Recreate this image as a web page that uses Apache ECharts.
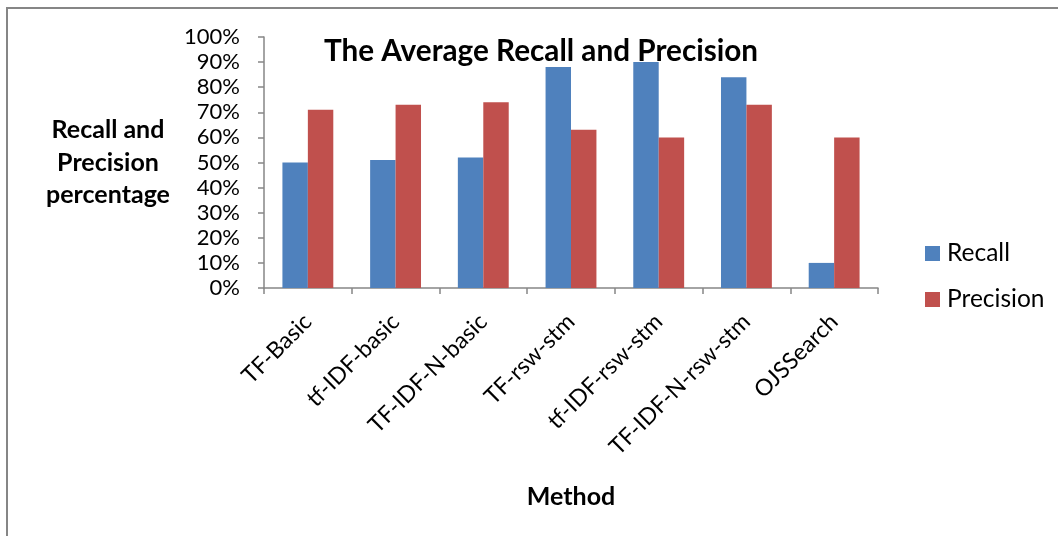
<!DOCTYPE html>
<html><head><meta charset="utf-8">
<script src="https://cdn.jsdelivr.net/npm/echarts@6/dist/echarts.min.js"></script>
<style>html,body{margin:0;padding:0;background:#fff}#c{width:1058px;height:536px}</style>
</head><body><div id="c"></div>
<script>
var categories = ['TF-Basic','tf-IDF-basic','TF-IDF-N-basic','TF-rsw-stm','tf-IDF-rsw-stm','TF-IDF-N-rsw-stm','OJSSearch'];
var recall = [50, 51, 52, 88, 90, 84, 10];
var precision = [71, 73, 74, 63, 60, 73, 60];
var yTicks = [0,10,20,30,40,50,60,70,80,90,100];

var font = 'Lato, "Open Sans", sans-serif';
var chart = echarts.init(document.getElementById('c'));
chart.setOption({
  animation: false,
  backgroundColor: '#fff',
  graphic: [{
    type: 'rect', shape: {x: 7, y: 8, width: 1100, height: 600},
    style: {fill: 'none', stroke: '#868686', lineWidth: 2}, silent: true
  }],
  title: {
    text: 'The Average Recall and Precision',
    left: 536, top: 31, textAlign: 'center',
    textStyle: {fontFamily: font, fontWeight: 'bold', fontSize: 29.7, color: '#000'}
  },
  legend: {
    orient: 'vertical', left: 920, top: 236, itemGap: 21,
    itemWidth: 15, itemHeight: 15, icon: 'rect',
    textStyle: {fontFamily: font, fontSize: 24.5, color: '#000', padding: [0,0,0,2]},
    data: ['Recall','Precision']
  },
  grid: {left: 264, top: 37, right: 180, bottom: 248},
  xAxis: {
    type: 'category', data: categories,
    name: 'Method', nameLocation: 'middle', nameGap: 196,
    nameTextStyle: {fontFamily: font, fontWeight: 'bold', fontSize: 25, color: '#000'},
    axisLine: {lineStyle: {color: '#868686', width: 1.5}},
    axisTick: {show: true, length: 6, alignWithLabel: false, lineStyle: {color: '#868686', width: 1.5}},
    axisLabel: {rotate: 45, margin: 30, fontFamily: font, fontSize: 23, color: '#000', interval: 0}
  },
  yAxis: {
    type: 'value', min: 0, max: 100, interval: 10,
    name: 'Recall and\nPrecision\npercentage', nameLocation: 'middle', nameGap: 156, nameRotate: 0,
    nameTextStyle: {fontFamily: font, fontWeight: 'bold', fontSize: 25, color: '#000', lineHeight: 32.5, align: 'center'},
    axisLine: {show: true, lineStyle: {color: '#868686', width: 1.5}},
    axisTick: {show: true, length: 6, lineStyle: {color: '#868686', width: 1.5}},
    splitLine: {show: false},
    axisLabel: {margin: 24, fontFamily: font, fontSize: 22, color: '#000',
      formatter: function (v) { return yTicks.indexOf(v) >= 0 ? v + '%' : ''; }}
  },
  series: [
    {name: 'Recall', type: 'bar', data: recall, barGap: '0%', barCategoryGap: '42%',
     itemStyle: {color: '#4F81BD'}},
    {name: 'Precision', type: 'bar', data: precision, barGap: '0%', barCategoryGap: '42%',
     itemStyle: {color: '#C0504D'}}
  ]
});
</script></body></html>
